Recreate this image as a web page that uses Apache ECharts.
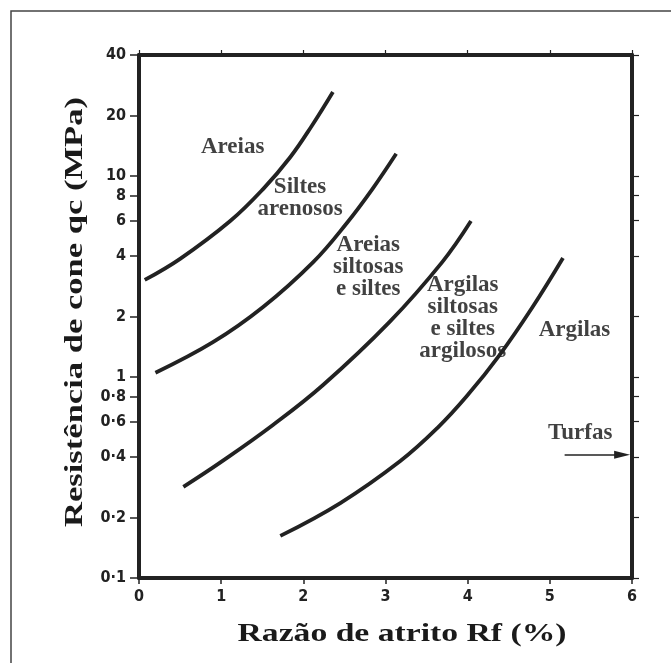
<!DOCTYPE html>
<html><head><meta charset="utf-8">
<script src="https://cdn.jsdelivr.net/npm/echarts@6/dist/echarts.min.js"></script>
<style>html,body{margin:0;padding:0;background:#fff}#c{width:671px;height:663px}</style>
</head><body><div id="c"></div>
<script>
// ---- data ----
const xTicks = [0, 1, 2, 3, 4, 5, 6];
const yTickValues = [0.1, 0.2, 0.4, 0.6, 0.8, 1, 2, 4, 6, 8, 10, 20, 40];
const yTickLabels = ['0·1', '0·2', '0·4', '0·6', '0·8', '1', '2', '4', '6', '8', '10', '20', '40'];

const curve1X = [0.07, 0.5, 1.11, 1.51, 1.84, 2.1, 2.36];
const curve1Y = [3.04, 3.87, 5.97, 8.61, 12.4, 17.7, 26.2];
const curve2X = [0.2, 0.9, 1.51, 2.12, 2.53, 2.84, 3.13];
const curve2Y = [1.05, 1.49, 2.23, 3.73, 5.84, 8.61, 12.9];
const curve3X = [0.54, 1.0, 1.63, 2.24, 3.05, 3.69, 4.04];
const curve3Y = [0.284, 0.378, 0.577, 0.912, 1.88, 3.73, 5.97];
const curve4X = [1.72, 2.45, 3.18, 3.63, 3.99, 4.39, 4.79, 5.16];
const curve4Y = [0.162, 0.236, 0.382, 0.557, 0.804, 1.29, 2.23, 3.91];

const regionLabels = ['Areias', 'Siltes\narenosos', 'Areias\nsiltosas\ne siltes',
  'Argilas\nsiltosas\ne siltes\nargilosos', 'Argilas', 'Turfas'];
const regionLabelX = [1.14, 1.96, 2.79, 3.94, 5.30, 5.37];
const regionLabelY = [13.9, 7.8, 3.52, 1.97, 1.71, 0.526];

const turfasArrowX = [5.18, 5.88];
const turfasArrowY = [0.41, 0.41];

const xTitle = 'Razão de atrito Rf (%)';
const yTitle = 'Resistência de cone qc (MPa)';

// ---- helpers ----
const L = v => Math.log10(v);
const pts = (xs, ys) => xs.map((x, i) => [x, L(ys[i])]);
const yMin = L(yTickValues[0]);
const yMax = L(yTickValues[yTickValues.length - 1]);
const yCustom = yTickValues.map(L);
const yFmt = v => {
  const i = yCustom.findIndex(t => Math.abs(t - v) < 1e-6);
  return i >= 0 ? yTickLabels[i] : '';
};
function measure(text, font) {
  const c = document.createElement('canvas').getContext('2d');
  c.font = font;
  return c.measureText(text).width;
}
const titleFont = 'bold 26px "Liberation Serif"';
const xScale = 329 / measure(xTitle, titleFont);
const yScale = 430 / measure(yTitle, titleFont);

const ink = '#222';
const tickFont = '"Liberation Sans Narrow","DejaVu Sans Condensed",sans-serif';

const curveSeries = [[curve1X, curve1Y], [curve2X, curve2Y], [curve3X, curve3Y], [curve4X, curve4Y]]
  .map(([xs, ys]) => ({
    type: 'line', data: pts(xs, ys), smooth: 0.4, symbol: 'none',
    lineStyle: { color: ink, width: 3.8 }, silent: true, xAxisIndex: 0, yAxisIndex: 0
  }));

const chart = echarts.init(document.getElementById('c'), null, { renderer: 'canvas' });
chart.setOption({
  animation: false,
  backgroundColor: '#fff',
  grid: { left: 139, right: 39, top: 55, bottom: 85, containLabel: false, outerBoundsMode: 'none' },
  xAxis: [{
    type: 'value', position: 'bottom', min: xTicks[0], max: xTicks[xTicks.length - 1], interval: 1,
    axisLine: { show: true, onZero: false, lineStyle: { color: ink, width: 4 } },
    axisTick: { show: true, inside: false, length: 6, lineStyle: { color: ink, width: 1.5 } },
    axisLabel: { show: true, margin: 11, fontFamily: tickFont, fontSize: 16, fontWeight: 'bold', color: '#222' },
    splitLine: { show: false }
  }, {
    type: 'value', position: 'top', min: xTicks[0], max: xTicks[xTicks.length - 1], interval: 1,
    axisLine: { show: true, onZero: false, lineStyle: { color: ink, width: 4 } },
    axisTick: { show: true, inside: false, length: 5, lineStyle: { color: ink, width: 1.2 } },
    axisLabel: { show: false }, splitLine: { show: false }
  }],
  yAxis: [{
    type: 'value', position: 'left', min: yMin, max: yMax,
    axisLine: { show: true, onZero: false, lineStyle: { color: ink, width: 4 } },
    axisTick: { show: true, inside: false, length: 9, customValues: yCustom, lineStyle: { color: ink, width: 1.5 } },
    axisLabel: { show: true, margin: 13, customValues: yCustom, formatter: yFmt, fontFamily: tickFont, fontSize: 16, fontWeight: 'bold', color: '#222' },
    splitLine: { show: false }
  }, {
    type: 'value', position: 'right', min: yMin, max: yMax,
    axisLine: { show: true, onZero: false, lineStyle: { color: ink, width: 4 } },
    axisTick: { show: true, inside: false, length: 7, customValues: yCustom, lineStyle: { color: ink, width: 1.2 } },
    axisLabel: { show: false, customValues: yCustom }, splitLine: { show: false }
  }],
  series: curveSeries.concat([{
    type: 'scatter', xAxisIndex: 0, yAxisIndex: 0, silent: true,
    data: pts(regionLabelX, regionLabelY),
    symbolSize: 1, itemStyle: { color: 'rgba(0,0,0,0)' },
    label: {
      show: true, position: 'inside', formatter: p => regionLabels[p.dataIndex],
      fontFamily: '"Liberation Serif","Times New Roman",serif', fontWeight: 'bold',
      fontSize: 23, lineHeight: 22, color: '#111', align: 'center', verticalAlign: 'middle'
    },
    markLine: {
      silent: true, animation: false,
      symbol: ['none', 'path://M5,0 L10,14 L0,14 Z'], symbolSize: [8, 16],
      label: { show: false },
      lineStyle: { color: ink, width: 1.5, type: 'solid' },
      itemStyle: { color: ink },
      data: [[{ coord: [turfasArrowX[0], L(turfasArrowY[0])] }, { coord: [turfasArrowX[1], L(turfasArrowY[1])] }]]
    }
  }]),
  graphic: [
    { type: 'rect', shape: { x: 11, y: 11, width: 720, height: 720 }, style: { fill: 'none', stroke: '#444', lineWidth: 1.5 }, silent: true },
    { type: 'text', x: 402, y: 634, scaleX: xScale, silent: true,
      style: { text: xTitle, x: 0, y: 0, font: titleFont, fill: '#1a1a1a', align: 'center', verticalAlign: 'middle' } },
    { type: 'text', x: 75, y: 312, rotation: Math.PI / 2, scaleX: yScale, silent: true,
      style: { text: yTitle, x: 0, y: 0, font: titleFont, fill: '#1a1a1a', align: 'center', verticalAlign: 'middle' } }
  ]
});
</script>
</body></html>
